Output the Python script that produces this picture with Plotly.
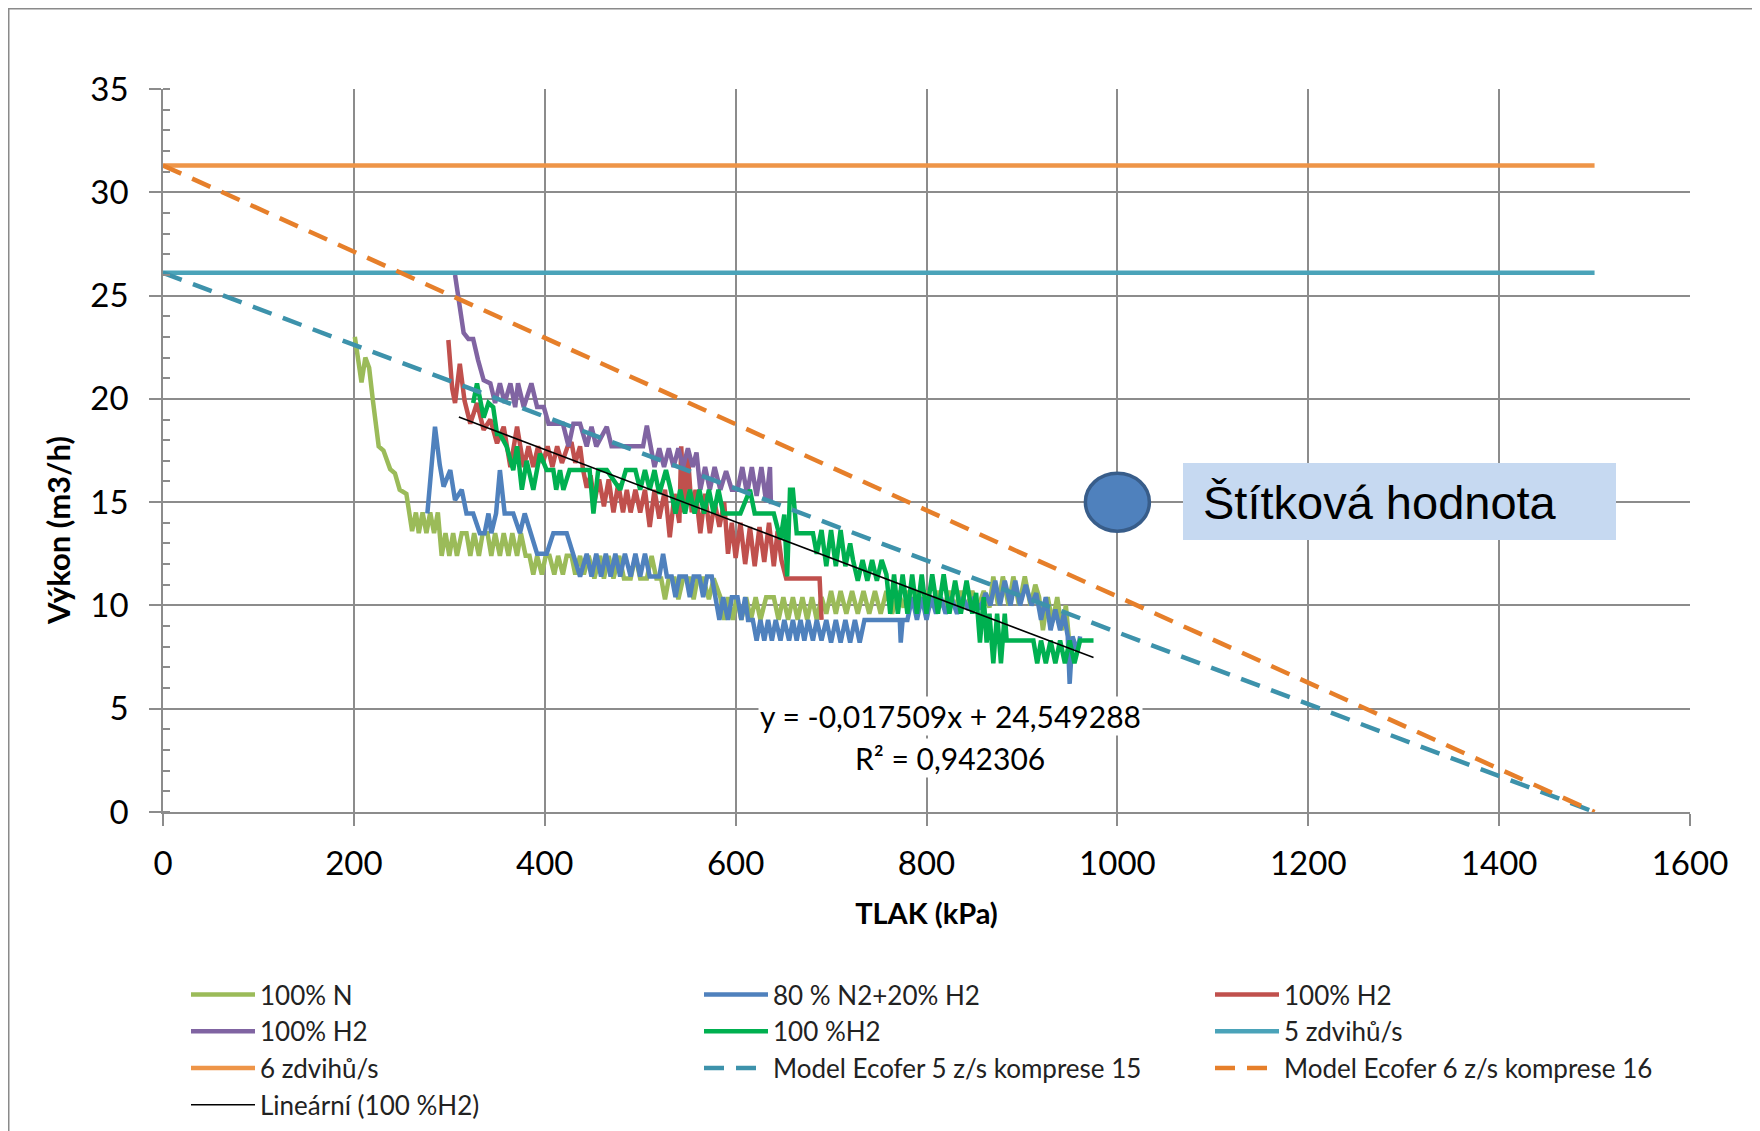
import plotly.graph_objects as go

# ---------------- data ----------------
n100_x = [201,205,208,212,216,220,226,231,238,243,248,255,261,
          265,268,272,276,280,284,288,
          292,296,300,304,308,313,318,322,326,331,335,340,344,348,353,357,362,366,371,375,380,
          384,388,392,397,401,405,410,414,419,423,428,432,437,441,446,
          452,458,462,467,472,478,483,490,495,500,507,512,517,
          522,526,530,536,540,545,552,556,560,566,572,577,
          584,588,592,597,601,606,611,616,621,626,632,640,
          645,650,655,660,665,670,675,680,685,690,
          695,700,705,710,716,722,728,734,740,746,752,758,764,770,
          776,781,786,791,796,801,806,812,818,824,830,836,842,848,854,860,
          866,870,875,880,886,891,897,903,909,914,
          918,922,927,932,937,942,946,950]
n100_y = [23.0,21.5,20.8,22.0,21.5,19.9,17.7,17.5,16.6,16.4,15.6,15.4,13.6,
          14.5,13.5,14.5,13.5,14.5,13.5,14.5,
          12.4,13.5,12.4,13.5,12.4,13.5,13.5,12.4,13.5,12.4,13.5,13.5,12.4,13.5,12.4,13.5,12.4,13.5,12.4,13.5,12.4,
          12.4,11.5,12.4,11.5,12.4,12.4,11.5,12.4,11.5,12.4,12.4,11.5,12.4,11.5,12.4,
          11.3,12.4,11.3,12.4,11.3,12.4,11.3,11.3,12.4,11.3,11.3,12.4,11.3,
          11.3,10.3,11.3,11.3,10.3,11.3,11.3,10.3,11.3,11.3,10.3,11.3,
          10.4,9.3,10.4,9.3,10.4,9.3,10.4,9.3,10.4,9.3,10.4,10.4,
          9.3,10.4,9.3,10.4,9.3,10.4,9.3,10.4,9.3,10.4,
          9.6,10.7,9.6,10.7,9.6,10.7,9.6,10.7,9.6,10.7,9.6,10.7,9.6,10.7,
          9.9,10.7,9.9,10.7,9.9,10.7,9.9,10.7,9.9,10.7,9.9,10.7,9.9,10.7,9.9,10.7,
          9.9,11.4,10.0,11.4,10.0,11.4,10.0,11.4,10.0,11.0,
          10.4,8.8,10.4,9.2,10.4,8.8,10.0,8.0]

mix_x = [277,285,290,294,301,306,313,318,325,332,337,341,344,349,353,358,367,374,379,385,392,402,409,423,430,437,444,
         449,454,459,464,469,474,479,484,490,495,500,505,
         510,520,524,528,
         533,537,541,548,552,556,562,566,570,575,
         579,583,587,592,596,602,606,610,
         613,618,622,626,630,634,638,642,647,651,656,660,664,668,672,676,681,685,690,695,700,705,710,715,720,725,730,735,
         772,773,775,
         780,785,790,795,800,805,810,815,820,826,832,838,844,850,856,862,
         867,872,877,882,888,893,898,904,910,915,
         920,925,930,935,940,944,948,950,953,958,961]
mix_y = [14.45,18.65,16.8,15.75,16.55,15.1,15.6,14.45,14.45,13.5,13.5,14.45,13.5,14.45,16.55,14.45,14.45,13.5,14.45,13.5,12.5,12.5,13.5,13.5,12.5,11.4,12.5,
         11.4,12.5,11.4,12.5,11.4,12.5,11.4,12.5,11.4,12.5,11.4,12.5,
         11.4,11.4,12.5,11.4,
         11.4,10.4,11.4,11.4,10.4,11.4,11.4,10.4,11.4,11.4,
         10.4,9.3,10.4,9.3,10.4,10.4,9.3,10.4,
         9.3,9.3,8.3,9.3,8.3,9.3,8.3,9.3,8.3,9.3,8.3,9.3,8.3,9.3,8.3,9.3,8.3,9.3,8.3,9.3,8.2,9.3,8.2,9.3,8.2,9.3,8.2,9.3,
         9.3,8.2,9.3,
         9.3,10.4,9.3,10.4,9.3,10.4,9.6,10.4,9.6,10.4,9.6,10.4,9.8,10.4,9.8,10.6,
         10.0,11.2,10.0,11.2,10.0,11.2,10.0,11.0,10.0,10.6,
         9.3,10.4,8.8,9.8,8.8,9.6,8.5,6.2,8.5,7.8,8.5]

h2a_x = [299,303,306,311,316,322,329,336,343,350,357,364,371,378,383,388,393,398,403,408,413,418,424,428,432,437,
         440,444,448,452,457,462,467,472,477,482,486,
         490,495,500,505,510,515,520,526,531,536,541,
         543,546,550,554,558,563,568,573,578,583,588,
         592,596,600,605,610,615,620,625,630,635,640,644,648,
         653,688,690]
h2a_y = [22.85,20.5,19.8,21.7,19.9,18.8,19.8,18.5,19.0,17.85,18.65,16.7,18.65,16.7,17.7,16.7,17.7,16.9,17.7,16.7,17.7,16.9,17.7,17.9,16.9,17.7,
         16.6,15.7,16.3,15.0,16.1,14.8,16.1,14.5,15.9,14.5,15.6,
         14.5,15.6,14.5,15.6,13.8,15.6,14.2,15.6,13.3,15.4,14.0,
         17.7,14.5,17.3,14.5,15.6,13.5,15.4,13.5,15.0,13.8,15.0,
         12.5,14.0,12.3,14.0,12.0,13.8,11.9,13.8,12.1,14.0,11.9,13.6,12.2,
         11.3,11.3,9.3]

h2b_x = [306,309.5,315,320,325,330,336,343,348,353,358,364,369,372,378,386,392,399,404,419,425,430,437,444,449,454,465,470,503,507,511,
         515,520,525,530,535,540,545,550,555,559,563,568,573,578,584,590,596,602,607,612,617,622,627,632,636,637]
h2b_y = [26.0,24.8,23.2,22.9,22.9,21.9,20.9,20.75,19.8,20.75,19.8,20.75,19.6,20.75,19.6,20.75,19.6,19.6,18.8,18.8,17.7,18.8,18.8,17.7,18.65,17.7,18.65,17.7,17.7,18.7,17.7,
         16.7,17.6,16.7,17.6,16.7,17.6,16.7,17.6,16.7,17.4,15.6,16.7,15.6,16.7,15.6,16.5,15.6,15.6,16.7,15.4,16.7,15.3,16.7,15.0,16.7,14.9]

h2c_x = [325,329,336,341,346,350,353,360,367,371,376,381,388,395,402,409,412,416,419.5,426,444,447,451,456,465,479,485,495,500,505,510,515,520,527,
         532,537,542,547,552,557,562,567,572,577,582,587,591,605,615,620,632,640,647,651,654,657,660,664,681,685,
         690,695,700,705,710,715,720,723,728,733,738,743,748,753,758,762,766,770,775,780,785,790,795,800,806,812,818,824,830,836,842,848,
         852,856,860,863,866,870,874,878,882,884,912,916,920,925,930,935,940,945,950,955,961,975]
h2c_y = [19.8,20.75,19.1,19.8,19.6,18.3,18.3,17.7,16.55,17.7,15.6,17.0,15.6,17.35,16.55,16.55,15.6,16.55,15.6,16.55,16.55,16.55,14.45,16.55,16.55,15.6,16.55,16.55,15.6,16.55,15.6,16.55,15.4,16.55,
         15.6,14.45,15.6,14.45,15.6,14.45,15.6,14.45,15.6,14.45,15.6,14.45,14.45,14.45,15.6,14.45,14.45,14.45,13.2,14.4,11.4,15.6,15.6,13.5,13.5,12.5,
         13.65,11.9,13.65,11.9,13.65,11.9,13.0,12.2,11.2,12.2,11.2,12.2,11.2,12.2,11.5,9.6,11.5,9.6,11.5,9.6,11.5,9.6,11.5,9.6,11.5,9.6,11.5,9.6,11.2,9.6,11.2,9.6,
         10.6,8.2,10.4,8.2,9.6,7.2,9.6,7.2,9.6,8.3,8.3,7.2,8.3,7.2,8.3,7.2,8.3,7.2,8.3,7.2,8.3,8.3]

z5_x = [0, 1500]
z5_y = [26.1, 26.1]
z6_x = [0, 1500]
z6_y = [31.3, 31.3]
model5_x = [0, 1500]
model5_y = [26.1, 0]
model6_x = [0, 1500]
model6_y = [31.3, 0]

trend_slope = -0.017509
trend_intercept = 24.549288
trend_r2 = 0.942306
trend_x = [310, 975]
trend_y = [trend_slope * v + trend_intercept for v in trend_x]

stitek_x = [1000]
stitek_y = [15]

x_ticks = [0, 200, 400, 600, 800, 1000, 1200, 1400, 1600]
y_ticks = [0, 5, 10, 15, 20, 25, 30, 35]

# ---------------- figure ----------------
# page body has an 8px margin; figure coordinates below are relative to the figure
W, H = 1752, 1123
L, R, T, B = 155, 70, 81, 319
PW, PH = W - L - R, H - T - B

def px_x(p):
    return (p - L) / PW

def px_y(p):
    return (H - B - p) / PH

fig = go.Figure()

# (name, x, y, colour, legend column)
series = [
    ("100% N", n100_x, n100_y, "#9BBB59", "legend"),
    ("80 % N2+20% H2", mix_x, mix_y, "#4F81BD", "legend2"),
    ("100% H2", h2a_x, h2a_y, "#C0504D", "legend3"),
    ("100% H2", h2b_x, h2b_y, "#8064A2", "legend"),
    ("100 %H2", h2c_x, h2c_y, "#00B050", "legend2"),
]
for name, xs, ys, col, lg in series:
    fig.add_trace(go.Scatter(x=xs, y=ys, mode="lines", name=name, legend=lg,
                             line=dict(color=col, width=4.5)))

fig.add_trace(go.Scatter(x=z5_x, y=z5_y, mode="lines", name="5 zdvihů/s", legend="legend3",
                         line=dict(color="#4AA3B9", width=4.5)))
fig.add_trace(go.Scatter(x=z6_x, y=z6_y, mode="lines", name="6 zdvihů/s", legend="legend",
                         line=dict(color="#EE9548", width=4.5)))
fig.add_trace(go.Scatter(x=model5_x, y=model5_y, mode="lines", legend="legend2",
                         name="Model Ecofer 5 z/s komprese 15",
                         line=dict(color="#3D92AB", width=4.5, dash="20px,12px")))
fig.add_trace(go.Scatter(x=model6_x, y=model6_y, mode="lines", legend="legend3",
                         name="Model Ecofer 6 z/s komprese 16",
                         line=dict(color="#E67F2A", width=4.5, dash="20px,12px")))
fig.add_trace(go.Scatter(x=trend_x, y=trend_y, mode="lines", legend="legend",
                         name="Lineární (100 %H2)",
                         line=dict(color="#000000", width=1.5)))

grid_col = "#8C8C8C"
tick_font = dict(family="Lato, Liberation Sans, sans-serif", size=33, color="#000")
fig.update_xaxes(range=[0, 1600], tickvals=x_ticks, ticks="outside", ticklen=12,
                 tickcolor=grid_col, tickwidth=1.5,
                 showgrid=True, gridcolor=grid_col, gridwidth=1.5,
                 showline=True, linecolor=grid_col, linewidth=1.5,
                 zeroline=False, ticklabelstandoff=10, tickfont=tick_font,
                 title=dict(text="<b>TLAK (kPa)</b>", standoff=22,
                            font=dict(family="Lato, Liberation Sans, sans-serif", size=29, color="#000")))
fig.update_yaxes(range=[0, 35], tickvals=y_ticks, ticks="outside", ticklen=12,
                 tickcolor=grid_col, tickwidth=1.5,
                 minor=dict(dtick=1, ticks="inside", ticklen=7, tickcolor=grid_col, showgrid=False),
                 showgrid=True, gridcolor=grid_col, gridwidth=1.5,
                 showline=True, linecolor=grid_col, linewidth=1.5,
                 zeroline=False, ticklabelstandoff=14, tickfont=tick_font)

# y-axis title (placed like the original, below the plot centre)
fig.add_annotation(xref="paper", yref="paper", x=px_x(50), y=px_y(522),
                   xanchor="center", yanchor="middle", showarrow=False, textangle=-90,
                   text="<b>Výkon (m3/h)</b>",
                   font=dict(family="Lato, Liberation Sans, sans-serif", size=31, color="#000"))

# outer chart frame
fig.add_shape(type="rect", xref="paper", yref="paper",
              x0=px_x(0.75), x1=px_x(1800), y0=px_y(1200), y1=px_y(0.75),
              line=dict(color="#8A8A8A", width=1.5), fillcolor="rgba(0,0,0,0)", layer="below")

# rated point "Štítková hodnota" (ellipse anchored at the data point)
fig.add_shape(type="circle", xref="x", yref="y", xsizemode="pixel", ysizemode="pixel",
              xanchor=stitek_x[0], yanchor=stitek_y[0], x0=-32, x1=32, y0=-29, y1=29,
              fillcolor="#4F81BD", line=dict(color="#385D8A", width=3.5), layer="above")

# label box "Štítková hodnota"
fig.add_shape(type="rect", xref="paper", yref="paper",
              x0=px_x(1175), x1=px_x(1608), y0=px_y(532), y1=px_y(455),
              line=dict(width=0), fillcolor="#C6D9F1", layer="above")
fig.add_annotation(xref="paper", yref="paper", x=px_x(1193), y=px_y(494),
                   xanchor="left", yanchor="middle", showarrow=False,
                   text="Štítková hodnota",
                   font=dict(family="Liberation Sans, Arial, sans-serif", size=47, color="#000"))

# trendline equation
eq_font = dict(family="Lato, Liberation Sans, sans-serif", size=30, color="#000")
fig.add_annotation(x=825, y=4.67, xref="x", yref="y", showarrow=False,
                   text=f"y = {trend_slope:.6f}x + {trend_intercept:.6f}".replace(".", ","),
                   bgcolor="#FFFFFF", borderpad=1, font=eq_font)
fig.add_annotation(x=825, y=2.61, xref="x", yref="y", showarrow=False,
                   text=f"R² = {trend_r2:.6f}".replace(".", ","),
                   bgcolor="#FFFFFF", borderpad=1, font=eq_font)

legend_common = dict(orientation="v", xanchor="left", yanchor="top",
                     itemwidth=64, traceorder="normal",
                     font=dict(family="Lato, sans-serif", size=26, color="#222"),
                     bgcolor="rgba(0,0,0,0)")
fig.update_layout(
    width=W, height=H,
    margin=dict(l=L, r=R, t=T, b=B, autoexpand=False),
    paper_bgcolor="#FFFFFF", plot_bgcolor="#FFFFFF",
    showlegend=True,
    legend=dict(x=px_x(178), y=px_y(963), **legend_common),
    legend2=dict(x=px_x(691), y=px_y(963), **legend_common),
    legend3=dict(x=px_x(1202), y=px_y(963), **legend_common),
)

fig.write_html("out.html")
